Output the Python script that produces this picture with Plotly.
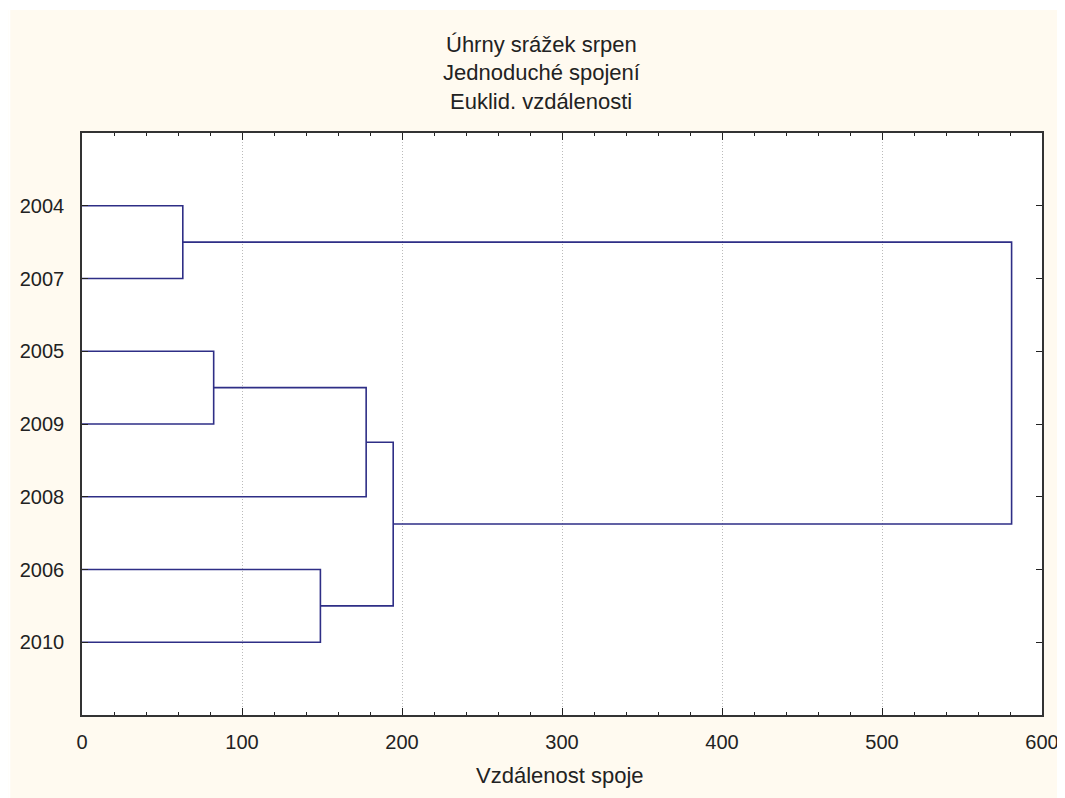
import plotly.graph_objects as go

# ---- data ----
leaves = ["2004", "2007", "2005", "2009", "2008", "2006", "2010"]
# linkage rows: (cluster_a, cluster_b, distance); new clusters numbered from len(leaves)
link_a = [0, 2, 5, 8, 10, 7]
link_b = [1, 3, 6, 4, 9, 11]
link_d = [63.0, 82.3, 149.0, 177.6, 194.5, 581.0]

x_ticks = [0, 100, 200, 300, 400, 500, 600]

title_lines = ["Úhrny srážek srpen", "Jednoduché spojení", "Euklid. vzdálenosti"]
x_title = "Vzdálenost spoje"

# ---- build dendrogram segments ----
pos_y = {i: i + 1 for i in range(len(leaves))}
pos_h = {i: 0.0 for i in range(len(leaves))}
xs, ys = [], []
for k, (a, b, d) in enumerate(zip(link_a, link_b, link_d)):
    new = len(leaves) + k
    xs += [pos_h[a], d, d, pos_h[b], None]
    ys += [pos_y[a], pos_y[a], pos_y[b], pos_y[b], None]
    pos_y[new] = (pos_y[a] + pos_y[b]) / 2
    pos_h[new] = d

FONT = "Liberation Sans, Arial, sans-serif"
LINE = "#2E2E86"
TXT = "#222222"

fig = go.Figure()
fig.add_trace(go.Scatter(x=xs, y=ys, mode="lines",
                         line=dict(color=LINE, width=1.6),
                         hoverinfo="skip", showlegend=False))

# page offset of the figure (body margin)
OFF = 8
FIG_W, FIG_H = 1065, 798
# plot geometry in page pixels
L, R, T, B = 81.7, 1041.7, 133.0, 715.0
W, H = R - L, B - T

def px_x(p):
    return (p - L) / W

def px_y(p):
    return (B - p) / H

shapes = [
    dict(type="rect", xref="paper", yref="paper",
         x0=px_x(OFF), x1=px_x(10), y0=px_y(810), y1=px_y(OFF),
         fillcolor="#FFFFFF", line=dict(width=0), layer="below"),
    dict(type="rect", xref="paper", yref="paper",
         x0=px_x(OFF), x1=px_x(1080), y0=px_y(10), y1=px_y(OFF),
         fillcolor="#FFFFFF", line=dict(width=0), layer="below"),
]

annotations = []
for i, (t, yc) in enumerate(zip(title_lines, [44.5, 73, 101.5])):
    annotations.append(dict(text=t, xref="paper", yref="paper",
                            x=px_x(541), y=px_y(yc),
                            xanchor="center", yanchor="middle", showarrow=False,
                            font=dict(family=FONT, size=22, color=TXT)))
annotations.append(dict(text=x_title, xref="paper", yref="paper",
                        x=px_x(560), y=px_y(775),
                        xanchor="center", yanchor="middle", showarrow=False,
                        font=dict(family=FONT, size=22, color=TXT)))

fig.update_layout(
    width=FIG_W, height=FIG_H,
    margin=dict(l=L - OFF, r=FIG_W - (R - OFF), t=T - OFF, b=FIG_H - (B - OFF), pad=0),
    paper_bgcolor="#FFFAF0",
    plot_bgcolor="#FFFFFF",
    shapes=shapes,
    annotations=annotations,
    font=dict(family=FONT, size=20, color=TXT),
)

fig.update_xaxes(
    range=[0, 600], tickvals=x_ticks, ticktext=[str(v) for v in x_ticks],
    ticks="inside", ticklen=7, tickwidth=1.2, tickcolor=TXT,
    minor=dict(ticks="inside", dtick=20, ticklen=3, tickcolor=TXT, showgrid=False),
    showline=True, linecolor="#333333", linewidth=1.6, mirror="ticks",
    showgrid=True, gridcolor="#BBBBBB", griddash="1px,2px", gridwidth=1,
    zeroline=False,
    ticklabelstandoff=8,
    tickfont=dict(family=FONT, size=20, color=TXT),
)
fig.update_yaxes(
    range=[len(leaves) + 1, 0],
    tickvals=list(range(1, len(leaves) + 1)), ticktext=leaves,
    ticks="inside", ticklen=6, tickwidth=1.2, tickcolor=TXT,
    showline=True, linecolor="#333333", linewidth=1.6, mirror="ticks",
    showgrid=False, zeroline=False,
    ticklabelstandoff=12,
    tickfont=dict(family=FONT, size=20, color=TXT),
)

fig.write_html("out.html", config={"displayModeBar": False})
